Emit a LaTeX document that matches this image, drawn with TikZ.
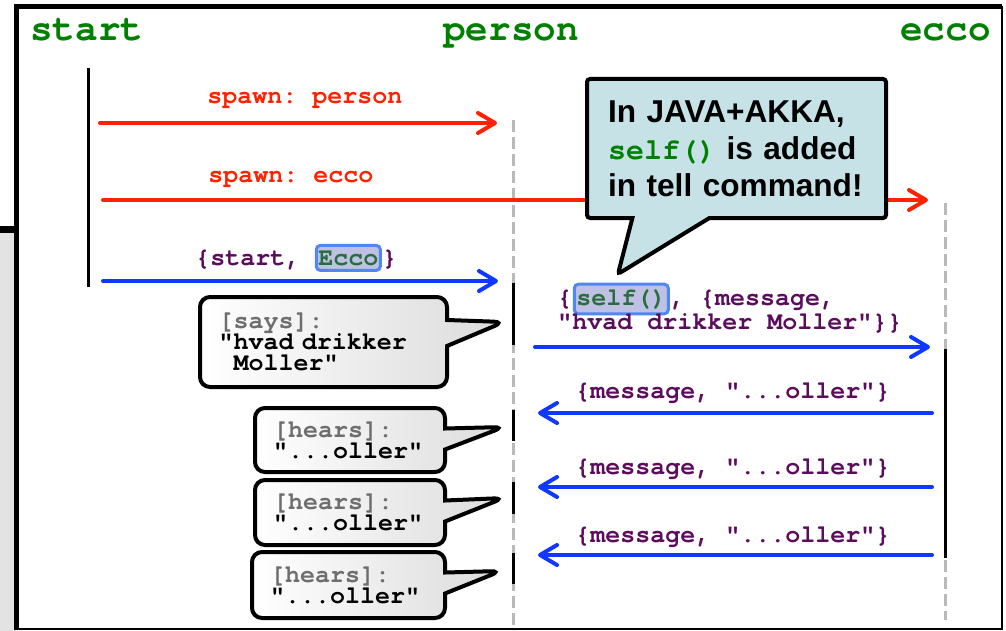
\documentclass[tikz,border=0pt]{standalone}
\usepackage{fontspec}
\setmainfont{Liberation Sans}
\setsansfont{Liberation Sans}
\setmonofont{TeX Gyre Cursor}
\usepackage{tikz}
\usetikzlibrary{positioning, shapes.callouts, arrows.meta}
\definecolor{msgred}{RGB}{255,34,0}
\definecolor{msgblue}{RGB}{16,56,255}
\definecolor{msgpurple}{RGB}{92,12,92}
\definecolor{actorgreen}{RGB}{0,128,0}
\definecolor{hlgreen}{RGB}{40,110,60}
\definecolor{hlfill}{RGB}{190,192,228}
\definecolor{hlborder}{RGB}{80,135,245}
\definecolor{notefill}{RGB}{198,226,230}
\definecolor{lifegray}{RGB}{185,185,185}
\definecolor{saygray}{RGB}{110,110,110}

\begin{document}
\begin{tikzpicture}[x=0.5pt,y=-0.5pt,
  title/.style={anchor=base west,inner sep=0pt,text=actorgreen,font=\fontsize{18.8}{20}\ttfamily\bfseries},
  lbl/.style={anchor=base west,inner sep=0pt,font=\fontsize{12.5}{12}\ttfamily\bfseries},
  hl/.style={lbl,draw=hlborder,line width=1.5pt,fill=hlfill,rounded corners=2pt,text=hlgreen,inner xsep=1pt,inner ysep=2.5pt},
  redmsg/.style={draw=msgred,line width=2pt,line cap=round,-{Straight Barb[round,length=8.5pt,width=10pt]}},
  bluemsg/.style={draw=msgblue,line width=2pt,line cap=round,-{Straight Barb[round,length=8.5pt,width=10pt]}},
  life/.style={draw=lifegray,line width=1.5pt,dash pattern=on 6pt off 2.5pt},
  act/.style={draw=black,line width=1.5pt},
  bubble/.style={rectangle callout,draw=black,line width=2pt,rounded corners=5pt,left color=white,right color=gray!28,
    align=left,inner xsep=9pt,inner ysep=0pt,font=\fontsize{12.5}{10.6}\ttfamily\bfseries},
  note/.style={rectangle callout,draw=black,line width=2pt,rounded corners=1.5pt,fill=notefill,
    align=left,inner xsep=10.5pt,inner ysep=0pt,font=\fontsize{15.8}{18.5}\sffamily\bfseries}]
\useasboundingbox (0,0) rectangle (1006,631);

\fill[gray!22] (0,228) rectangle (16,631);
\draw[line width=3.5pt] (0,229.5) -- (16,229.5);
\draw[line width=0.8pt,fill=white] (16,7) rectangle (1002,629);
\draw[line width=2.5pt] (16,630) -- (16,6.5) -- (1002,6.5);

\node (tstart) at (30,41) [title] {start};
\node (tperson) at (443,41) [title] {person};
\node (tecco) at (900,41) [title] {ecco};

\coordinate (s0) at (88,68);
\coordinate (s1) at (88,287);
\draw[act] (s0) -- (s1);

\coordinate (p0) at (513,120);
\coordinate (p1) at (513,630);
\draw[life] (p0) -- (p1);
\coordinate (pa1) at (513,283);
\coordinate (pb1) at (513,345);
\coordinate (pa2) at (513,410);
\coordinate (pb2) at (513,441);
\coordinate (pa3) at (513,482);
\coordinate (pb3) at (513,514);
\coordinate (pa4) at (513,553);
\coordinate (pb4) at (513,584);
\draw[act] (pa1) -- (pb1);
\draw[act] (pa2) -- (pb2);
\draw[act] (pa3) -- (pb3);
\draw[act] (pa4) -- (pb4);

\coordinate (e0) at (945,203);
\coordinate (e1) at (945,620);
\draw[life] (e0) -- (e1);
\coordinate (ea1) at (945,349);
\coordinate (eb1) at (945,558);
\draw[act] (ea1) -- (eb1);

\coordinate (m1s) at (100,123);
\coordinate (m1e) at (497,123);
\draw[redmsg] (m1s) -- (m1e);
\node (l1) at (207,104) [lbl,text=msgred] {spawn: person};

\coordinate (m2s) at (103,200);
\coordinate (m2e) at (928,200);
\draw[redmsg] (m2s) -- (m2e);
\node (l2) at (208,182) [lbl,text=msgred] {spawn: ecco};

\coordinate (m3s) at (103,281);
\coordinate (m3e) at (498,281);
\draw[bluemsg] (m3s) -- (m3e);
\node (l3a) at (195,265) [lbl,text=msgpurple] {\{start,};
\node (l3b) [hl,base right=7pt of l3a] {Ecco};
\node (l3c) [lbl,text=msgpurple,base right=0pt of l3b] {\}};

\coordinate (m4s) at (535,347);
\coordinate (m4e) at (930,347);
\draw[bluemsg] (m4s) -- (m4e);
\node (l4a) at (557,305) [lbl,text=msgpurple] {\{};
\node (l4b) [hl,base right=0pt of l4a] {self()};
\node (l4c) [lbl,text=msgpurple,base right=0pt of l4b] {, \{message,};
\node (l4d) at (557,329) [lbl,text=msgpurple] {"hvad drikker Moller"\}\}};

\coordinate (m5s) at (932,413);
\coordinate (m5e) at (538,413);
\draw[bluemsg] (m5s) -- (m5e);
\node (l5) at (575,398) [lbl,text=msgpurple] {\{message, "...oller"\}};

\coordinate (m6s) at (932,487);
\coordinate (m6e) at (538,487);
\draw[bluemsg] (m6s) -- (m6e);
\node (l6) at (575,474) [lbl,text=msgpurple] {\{message, "...oller"\}};

\coordinate (m7s) at (932,555);
\coordinate (m7e) at (538,555);
\draw[bluemsg] (m7s) -- (m7e);
\node (l7) at (575,542) [lbl,text=msgpurple] {\{message, "...oller"\}};

\coordinate (tsays) at (504,322);
\node (says) at (323.5,342) [bubble,minimum width=123.5pt,minimum height=45pt,text width=105pt,
  callout absolute pointer={(tsays)},callout pointer width=13pt]
  {\textcolor{saygray}{[says]:}\\"hvad drikker\\\hspace*{7.5pt}Moller"};

\coordinate (thears1) at (504,427);
\node (hears1) at (350,440) [bubble,minimum width=95pt,minimum height=32pt,text width=77pt,
  callout absolute pointer={(thears1)},callout pointer width=10.5pt]
  {\textcolor{saygray}{[hears]:}\\"...oller"};

\coordinate (thears2) at (504,498);
\node (hears2) at (350,512.5) [bubble,minimum width=95pt,minimum height=32.5pt,text width=77pt,
  callout absolute pointer={(thears2)},callout pointer width=10.5pt]
  {\textcolor{saygray}{[hears]:}\\"...oller"};

\coordinate (thears3) at (501,571);
\node (hears3) at (348.5,585) [bubble,minimum width=96.5pt,minimum height=33pt,text width=78.5pt,
  callout absolute pointer={(thears3)},callout pointer width=10.5pt]
  {\textcolor{saygray}{[hears]:}\\"...oller"};

\coordinate (tnote) at (618,274);
\node (akka) at (736.5,148.5) [note,minimum width=149.5pt,minimum height=69.5pt,text width=128.5pt,
  callout absolute pointer={(tnote)},callout pointer width=38.5pt]
  {In JAVA+AKKA,\\{\fontsize{15}{18.5}\ttfamily\color{actorgreen}self()} is added\\in tell command!};
\end{tikzpicture}
\end{document}
